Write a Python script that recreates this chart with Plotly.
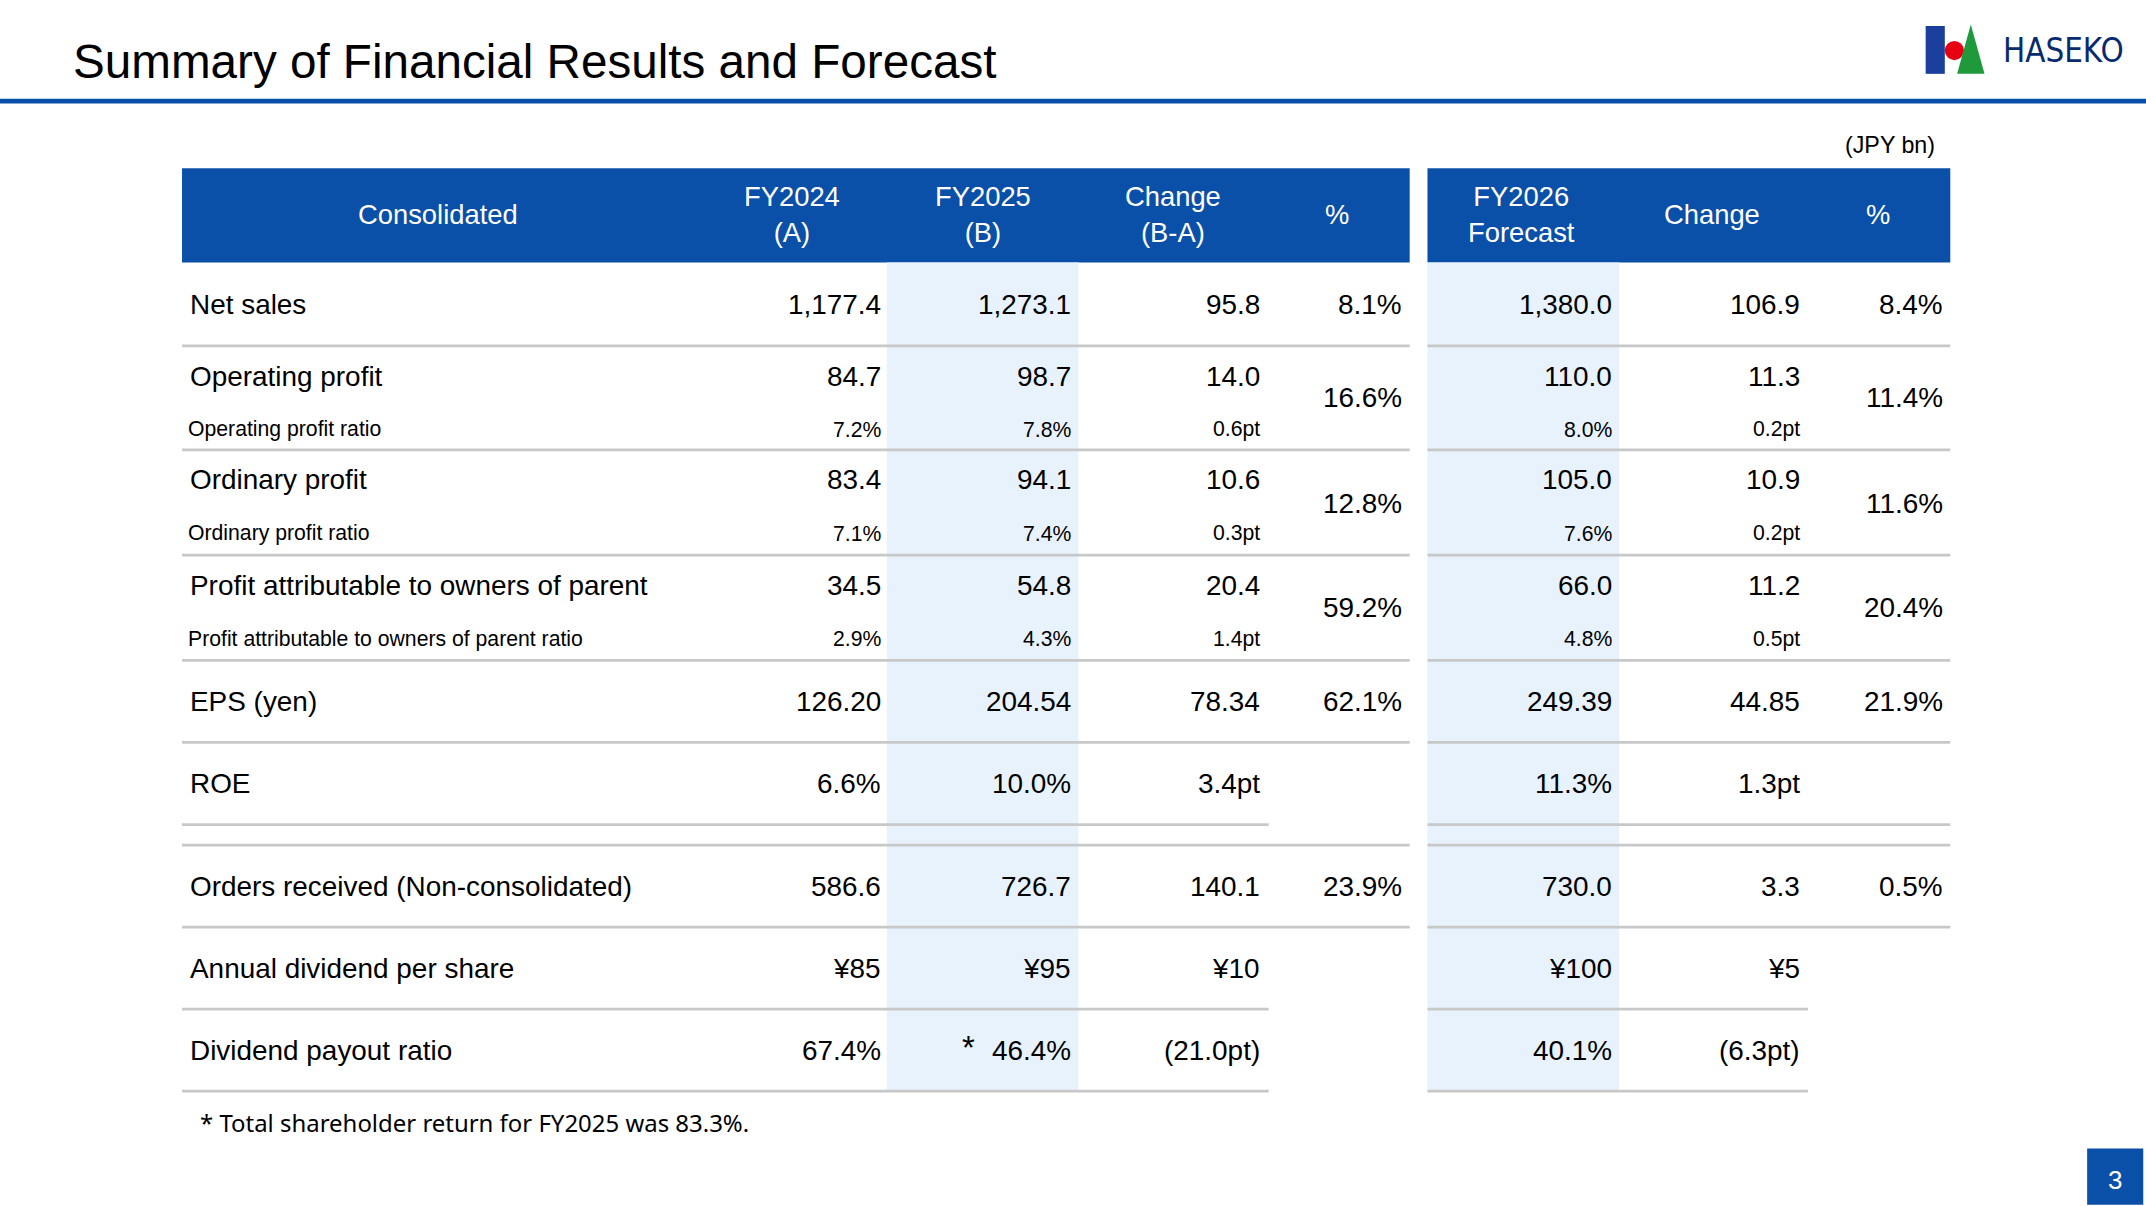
import plotly.graph_objects as go

W, H = 2146, 1206
S = W / 1568.0
BLUE = "#0a4fa8"
BAND = "#e8f2fd"
GRID = "#c8c8c8"
FONT = "Liberation Sans, Arial, sans-serif"

headers_left = ["Consolidated", "FY2024<br>(A)", "FY2025<br>(B)", "Change<br>(B-A)", "%"]
headers_right = ["FY2026<br>Forecast", "Change", "%"]

labels = ["Net sales", "Operating profit", "Ordinary profit",
          "Profit attributable to owners of parent", "EPS (yen)", "ROE",
          "Orders received (Non-consolidated)", "Annual dividend per share", "Dividend payout ratio"]
fy2024 = ["1,177.4", "84.7", "83.4", "34.5", "126.20", "6.6%", "586.6", "¥85", "67.4%"]
fy2025 = ["1,273.1", "98.7", "94.1", "54.8", "204.54", "10.0%", "726.7", "¥95", "46.4%"]
change = ["95.8", "14.0", "10.6", "20.4", "78.34", "3.4pt", "140.1", "¥10", "(21.0pt)"]
pct = ["8.1%", "16.6%", "12.8%", "59.2%", "62.1%", "", "23.9%", "", ""]
fy2026 = ["1,380.0", "110.0", "105.0", "66.0", "249.39", "11.3%", "730.0", "¥100", "40.1%"]
change26 = ["106.9", "11.3", "10.9", "11.2", "44.85", "1.3pt", "3.3", "¥5", "(6.3pt)"]
pct26 = ["8.4%", "11.4%", "11.6%", "20.4%", "21.9%", "", "0.5%", "", ""]

sub_labels = ["", "Operating profit ratio", "Ordinary profit ratio",
              "Profit attributable to owners of parent ratio", "", "", "", "", ""]
sub_fy2024 = ["", "7.2%", "7.1%", "2.9%", "", "", "", "", ""]
sub_fy2025 = ["", "7.8%", "7.4%", "4.3%", "", "", "", "", ""]
sub_change = ["", "0.6pt", "0.3pt", "1.4pt", "", "", "", "", ""]
sub_fy2026 = ["", "8.0%", "7.6%", "4.8%", "", "", "", "", ""]
sub_change26 = ["", "0.2pt", "0.2pt", "0.5pt", "", "", "", "", ""]

row_main_y = [223, 275, 351, 428, 513, 573, 648, 708, 768]
row_sub_y = [None, 314, 390, 467, None, None, None, None, None]
row_pct_y = [223, 291, 368, 444, 513, 573, 648, 708, 768]
lines = [(253, 1030, 1425), (329, 1030, 1425), (406, 1030, 1425), (483, 1030, 1425),
         (543, 1030, 1425), (603, 927, 1425), (618, 1030, 1425), (678, 1030, 1425),
         (738, 927, 1321), (798, 927, 1321)]

ann = []
shapes = []

def t(x, y, text, size, anchor="left", color="black", font=FONT):
    ann.append(dict(x=x, y=y, xref="x", yref="y", text=text, showarrow=False,
                    xanchor=anchor, yanchor="middle",
                    font=dict(size=size * S, color=color, family=font)))

def rect(x0, y0, x1, y1, color):
    shapes.append(dict(type="rect", x0=x0, y0=y0, x1=x1, y1=y1, xref="x", yref="y",
                       fillcolor=color, line=dict(width=0), layer="below"))

def line(x0, y, x1, color=GRID, w=2):
    shapes.append(dict(type="line", x0=x0, y0=y, x1=x1, y1=y, xref="x", yref="y",
                       line=dict(color=color, width=w * S)))

t(52, 45, "Summary of Financial Results and Forecast", 34.8)
line(0, 74, 1568, BLUE, 3.5)
t(1415, 106, "(JPY bn)", 17, "right")

# logo
rect(1407, 19, 1421, 54, "#1a3f9c")
shapes.append(dict(type="circle", x0=1421, y0=30, x1=1435, y1=44, xref="x", yref="y",
                   fillcolor="#e60012", line=dict(width=0)))
shapes.append(dict(type="path", path="M 1430 54 L 1440 18 L 1450 54 Z", xref="x", yref="y",
                   fillcolor="#1e9a3c", line=dict(width=0)))
t(1462, 37, "HASEKO", 24, "left", "#0a2a6e", "DejaVu Sans Condensed, sans-serif")

rect(1525, 840, 1566, 881, BLUE)
t(1545, 863, "3", 19, "center", "white")

rect(133, 123, 1030, 192, BLUE)
rect(1043, 123, 1425, 192, BLUE)
for x, h in zip([320, 579, 718, 857, 977], headers_left):
    t(x, 157, h, 20, "center", "white")
for x, h in zip([1112, 1251, 1372], headers_right):
    t(x, 157, h, 20, "center", "white")

rect(648, 192, 788, 798, BAND)
rect(1043, 192, 1183, 798, BAND)

for y, xl, xr in lines:
    line(133, y, xl)
    line(1043, y, xr)

cols = [(645, fy2024, sub_fy2024), (784, fy2025, sub_fy2025), (922, change, sub_change),
        (1179, fy2026, sub_fy2026), (1317, change26, sub_change26)]
for i, lab in enumerate(labels):
    t(137, row_main_y[i], lab, 20.4)
    for x, main, sub in cols:
        t(x, row_main_y[i], main[i], 20.4, "right")
        if row_sub_y[i] and sub[i]:
            t(x, row_sub_y[i], sub[i], 15.5, "right")
    if row_sub_y[i]:
        t(136, row_sub_y[i], sub_labels[i], 15.5)
    if pct[i]:
        t(1026, row_pct_y[i], pct[i], 20.4, "right")
    if pct26[i]:
        t(1421, row_pct_y[i], pct26[i], 20.4, "right")

t(708, 766, "*", 24, "center")
t(145, 821, "* Total shareholder return for FY2025 was 83.3%.", 17.5, "left", "black",
  "Noto Sans, sans-serif")

fig = go.Figure()
fig.add_trace(go.Scatter(x=[0, 1568], y=[0, 882], mode="markers",
                         marker=dict(opacity=0), hoverinfo="skip", showlegend=False))
fig.update_layout(width=W, height=H, margin=dict(l=0, r=0, t=0, b=0),
                  plot_bgcolor="white", paper_bgcolor="white",
                  xaxis=dict(range=[0, 1568], visible=False, fixedrange=True),
                  yaxis=dict(range=[882, 0], visible=False, fixedrange=True),
                  annotations=ann, shapes=shapes)
fig.write_html("out.html", config={"displayModeBar": False},
               post_script="document.body.style.margin='0';document.body.style.overflow='hidden';")
